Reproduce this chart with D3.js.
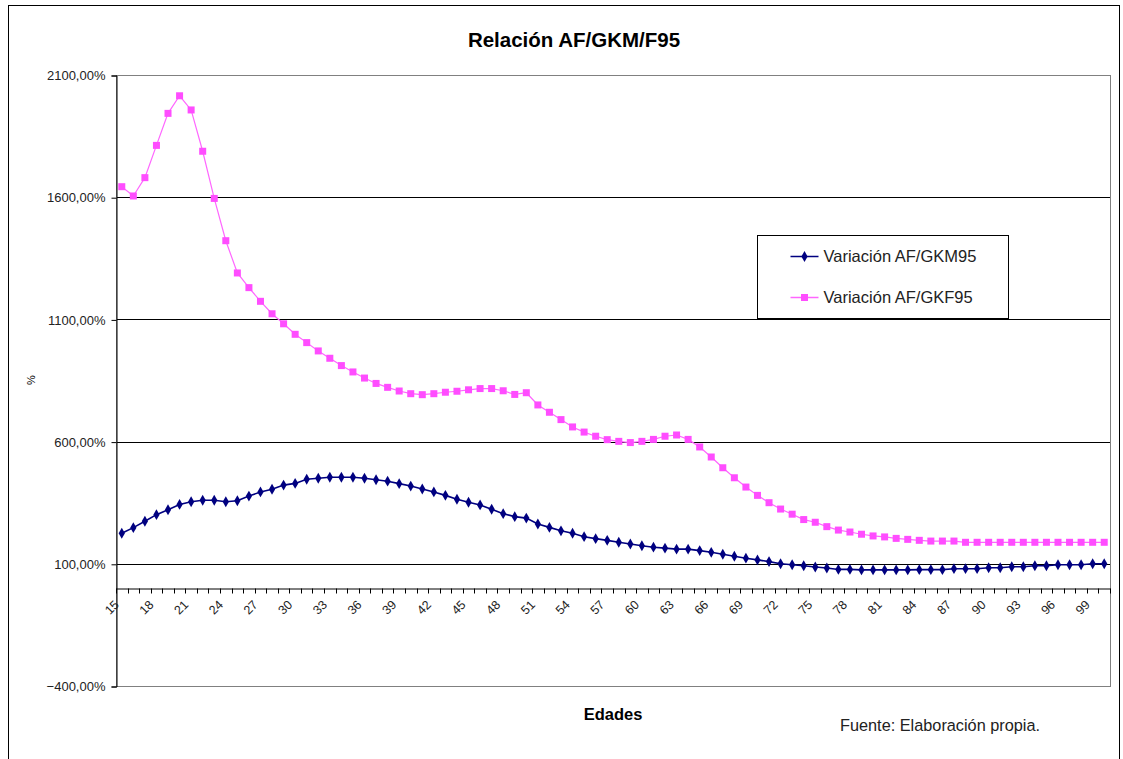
<!DOCTYPE html>
<html>
<head>
<meta charset="utf-8">
<script src="https://cdn.jsdelivr.net/npm/d3@7"></script>
<style>
  body { margin: 0; background: #fff; }
  text { font-family: Arial, "Liberation Sans", sans-serif; }
</style>
</head>
<body>
<div id="container"></div>
<script>
var width = 1123,
    height = 759;

// edades 15..100
var ages = d3.range(15, 101);

var gkm95 = [225, 248, 274, 301, 321, 343, 354, 360, 360, 354,
    358, 377, 394, 405, 422, 429, 446, 450, 454, 454,
    454, 450, 444, 438, 428, 418, 406, 394, 380, 364,
    352, 341, 323, 305, 293, 287, 263, 249, 235, 225,
    211, 203, 196, 188, 181, 174, 168, 164, 160, 160,
    154, 147, 139, 131, 123, 116, 109, 100, 96, 92,
    87, 83, 77, 77, 75, 75, 75, 75, 75, 76,
    76, 76, 80, 80, 80, 84, 84, 88, 88, 92,
    92, 96, 96, 96, 100, 100];

var gkf95 = [1643, 1605, 1680, 1812, 1943, 2015, 1957, 1788, 1595, 1422,
    1290, 1230, 1174, 1123, 1082, 1039, 1005, 971, 941, 911,
    885, 860, 838, 822, 807, 796, 792, 796, 802, 806,
    812, 817, 817, 808, 793, 800, 750, 720, 690, 660,
    639, 622, 608, 601, 596, 601, 609, 622, 627, 609,
    578, 537, 493, 452, 414, 380, 350, 324, 303, 281,
    270, 252, 238, 230, 221, 214, 210, 204, 200, 196,
    193, 193, 193, 188, 188, 188, 188, 188, 188, 188,
    188, 188, 188, 188, 188, 188];

var yTicks = [-400, 100, 600, 1100, 1600, 2100];

var seriesNames = ["Variación AF/GKM95", "Variación AF/GKF95"];

var svg = d3.select("#container")
    .append("svg")
    .attr("width", width)
    .attr("height", height);

// outer frame
svg.append("rect")
    .attr("x", 8.5).attr("y", 5.5)
    .attr("width", 1111).attr("height", 770)
    .attr("fill", "none")
    .attr("stroke", "#000")
    .attr("stroke-width", 1);

var plot = {left: 116, right: 1110, top: 75, bottom: 686};

var x = d3.scaleBand()
    .domain(ages)
    .range([plot.left, plot.right])
    .padding(0);

var y = d3.scaleLinear()
    .domain([-400, 2100])
    .range([plot.bottom, plot.top]);

// gridlines
svg.append("g")
    .selectAll("line")
    .data(yTicks.filter(function (d) { return d > -400 && d < 2100; }))
    .enter().append("line")
    .attr("x1", plot.left).attr("x2", plot.right)
    .attr("y1", function (d) { return Math.round(y(d)) + 0.5; })
    .attr("y2", function (d) { return Math.round(y(d)) + 0.5; })
    .attr("stroke", "#000")
    .attr("stroke-width", 1);

// plot area border
svg.append("rect")
    .attr("x", plot.left + 0.5).attr("y", plot.top + 0.5)
    .attr("width", plot.right - plot.left).attr("height", plot.bottom - plot.top)
    .attr("fill", "none")
    .attr("stroke", "#808080")
    .attr("stroke-width", 1);

// y axis
var fmt = function (d) { return d3.format(".2f")(d).replace(".", ",") + "%"; };
var yAxis = d3.axisLeft(y)
    .tickValues(yTicks)
    .tickFormat(fmt)
    .tickSize(5)
    .tickPadding(6);

var yg = svg.append("g")
    .attr("transform", "translate(" + (plot.left + 0.5) + ",0.5)")
    .call(yAxis);
yg.select(".domain").attr("stroke", "#000");
yg.selectAll(".tick line").attr("stroke", "#000");
yg.selectAll(".tick text")
    .attr("font-size", "13px")
    .attr("font-family", "Arial, 'Liberation Sans', sans-serif")
    .attr("fill", "#222");

// x axis crossing at 0
var x0 = Math.round(y(0)) + 0.5;
var xAxis = d3.axisBottom(x)
    .tickValues([])
    .tickSize(0);
var xg = svg.append("g")
    .attr("transform", "translate(0," + x0 + ")")
    .call(xAxis);
xg.select(".domain").attr("stroke", "#000");

// category ticks at boundaries
var bounds = ages.map(function (a) { return x(a); }).concat([plot.right]);
xg.selectAll(".btick")
    .data(bounds)
    .enter().append("line")
    .attr("class", "btick")
    .attr("x1", function (d) { return Math.round(d) + 0.5; })
    .attr("x2", function (d) { return Math.round(d) + 0.5; })
    .attr("y1", 0).attr("y2", 5)
    .attr("stroke", "#000");

// rotated labels every 3
xg.selectAll(".xlab")
    .data(ages.filter(function (a) { return (a - 15) % 3 === 0; }))
    .enter().append("text")
    .attr("class", "xlab")
    .attr("text-anchor", "end")
    .attr("font-size", "12.5px")
    .attr("fill", "#222")
    .attr("transform", function (d) {
        return "translate(" + (x(d) + x.bandwidth() / 2 - 2) + ",17) rotate(-45)";
    })
    .text(function (d) { return d; });

// lines
var line = d3.line()
    .x(function (d, i) { return x(ages[i]) + x.bandwidth() / 2; })
    .y(function (d) { return y(d); });

svg.append("path")
    .datum(gkf95)
    .attr("d", line)
    .attr("fill", "none")
    .attr("stroke", "#ff66ff")
    .attr("stroke-width", 1.2);

svg.append("g")
    .selectAll("rect")
    .data(gkf95)
    .enter().append("rect")
    .attr("x", function (d, i) { return x(ages[i]) + x.bandwidth() / 2 - 3.5; })
    .attr("y", function (d) { return y(d) - 3.5; })
    .attr("width", 7).attr("height", 7)
    .attr("fill", "#ff4dff");

svg.append("path")
    .datum(gkm95)
    .attr("d", line)
    .attr("fill", "none")
    .attr("stroke", "#000080")
    .attr("stroke-width", 1.6);

var diamond = d3.symbol().type(d3.symbolDiamond).size(34);
svg.append("g")
    .selectAll("path")
    .data(gkm95)
    .enter().append("path")
    .attr("d", diamond)
    .attr("transform", function (d, i) {
        return "translate(" + (x(ages[i]) + x.bandwidth() / 2) + "," + y(d) + ")";
    })
    .attr("fill", "#000080");

// title and axis titles
svg.append("text")
    .attr("x", 574).attr("y", 47)
    .attr("text-anchor", "middle")
    .attr("font-size", "20.5px")
    .attr("font-weight", "bold")
    .text("Relación AF/GKM/F95");

svg.append("text")
    .attr("x", 613).attr("y", 720)
    .attr("text-anchor", "middle")
    .attr("font-size", "16.5px")
    .attr("font-weight", "bold")
    .text("Edades");

svg.append("text")
    .attr("transform", "translate(35,380) rotate(-90)")
    .attr("text-anchor", "middle")
    .attr("font-size", "11px")
    .text("%");

svg.append("text")
    .attr("x", 840).attr("y", 731)
    .attr("font-size", "16.3px")
    .attr("fill", "#222")
    .text("Fuente: Elaboración propia.");

// legend
var legend = svg.append("g").attr("transform", "translate(757.5,235.5)");
legend.append("rect")
    .attr("width", 251).attr("height", 83)
    .attr("fill", "#fff")
    .attr("stroke", "#000");

var legItems = legend.selectAll(".leg")
    .data(seriesNames)
    .enter().append("g")
    .attr("class", "leg")
    .attr("transform", function (d, i) { return "translate(0," + (21 + i * 41) + ")"; });

legItems.append("line")
    .attr("x1", 33).attr("x2", 61)
    .attr("y1", 0).attr("y2", 0)
    .attr("stroke", function (d, i) { return i === 0 ? "#000080" : "#ff66ff"; })
    .attr("stroke-width", 1.5);

legItems.each(function (d, i) {
    var g = d3.select(this);
    if (i === 0) {
        g.append("path").attr("d", diamond).attr("transform", "translate(47,0)").attr("fill", "#000080");
    } else {
        g.append("rect").attr("x", 43.5).attr("y", -3.5).attr("width", 7).attr("height", 7).attr("fill", "#ff4dff");
    }
});

legItems.append("text")
    .attr("x", 66).attr("y", 5)
    .attr("font-size", "16.5px")
    .attr("fill", "#222")
    .text(function (d) { return d; });
</script>
</body>
</html>
